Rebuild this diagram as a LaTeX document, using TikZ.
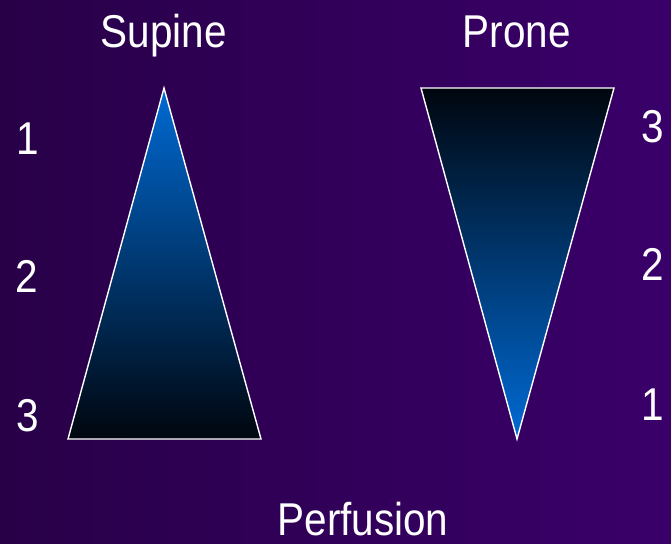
\documentclass[tikz,border=0pt]{standalone}
\usepackage{fontspec}
\setmainfont{Liberation Sans}
\begin{document}
\begin{tikzpicture}[x=1pt,y=-1pt,
  lbl/.style={text=white,font=\fontsize{46}{50}\selectfont,anchor=base,inner sep=0pt,xscale=0.88,transform shape},
  tri/.style={draw=white,line width=1.4pt,line join=miter}]
\definecolor{bgl}{RGB}{40,0,72}
\definecolor{bgr}{RGB}{58,0,106}
\definecolor{tblue}{RGB}{0,106,212}
\definecolor{tmid}{RGB}{0,66,136}
\definecolor{tdark}{RGB}{0,6,14}
\useasboundingbox (0,0) rectangle (671,543);
\shade[left color=bgl,right color=bgr] (0,0) rectangle (671,543);
% supine
\coordinate (sa) at (164,88);
\coordinate (sl) at (68,439);
\coordinate (sr) at (261,439);
\shade[top color=tblue,middle color=tmid,bottom color=tdark] (sa) -- (sr) -- (sl) -- cycle;
\draw[tri] (sa) -- (sr) -- (sl) -- cycle;
% prone
\coordinate (pl) at (421,88);
\coordinate (pr) at (614,88);
\coordinate (pa) at (517,439);
\shade[top color=tdark,middle color=tmid,bottom color=tblue] (pl) -- (pr) -- (pa) -- cycle;
\draw[tri] (pl) -- (pr) -- (pa) -- cycle;
% labels
\node[lbl] (supine) at (164,48) {Supine};
\node[lbl] (prone) at (517,48) {Prone};
\node[lbl] (perf) at (363,535) {Perfusion};
\node[lbl] (l1) at (28,154) {1};
\node[lbl] (l2) at (27,292) {2};
\node[lbl] (l3) at (28,431) {3};
\node[lbl] (r3) at (653,142) {3};
\node[lbl] (r2) at (653,280) {2};
\node[lbl] (r1) at (653,420) {1};
\end{tikzpicture}
\end{document}
